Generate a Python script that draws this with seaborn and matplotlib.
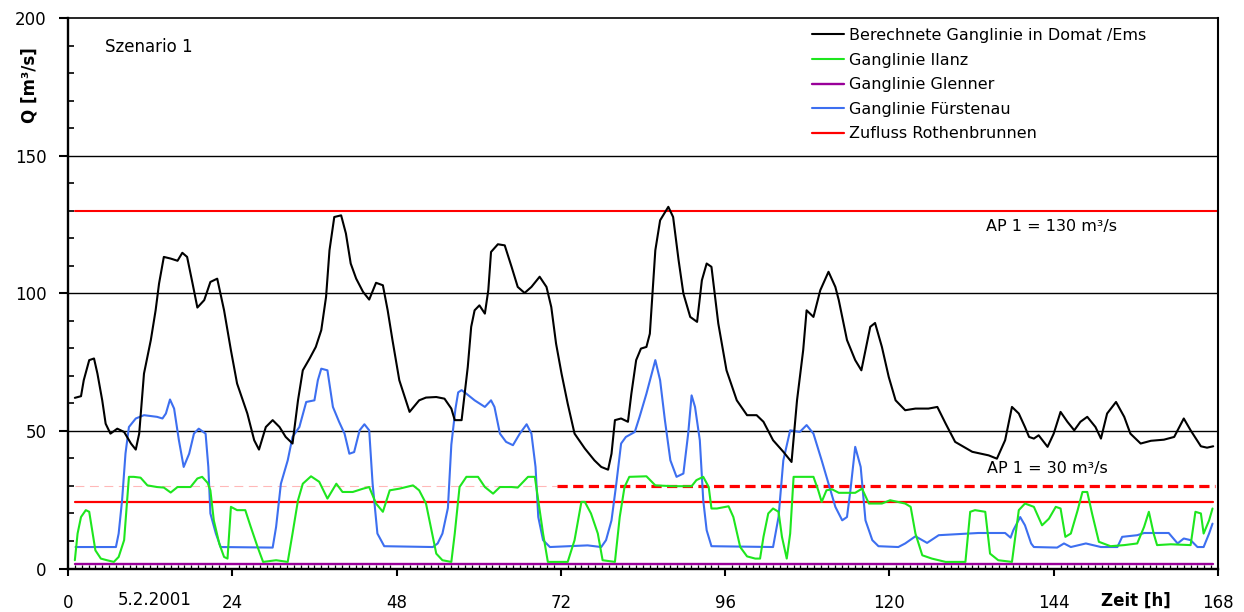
import matplotlib
matplotlib.use("Agg")
import matplotlib.pyplot as plt
import seaborn as sns
from matplotlib.ticker import MultipleLocator, FixedLocator

sns.set_theme(style="ticks")
plt.rcParams['font.family'] = ['DejaVu Sans']
plt.rcParams.update({"text.color": "black", "axes.labelcolor": "black",
                     "xtick.color": "black", "ytick.color": "black"})

# Berechnete Ganglinie in Domat/Ems (hour, m3/s)
domat_h = [1.0, 1.9, 2.3, 3.1, 3.8, 4.3, 5.0, 5.5, 6.2, 7.2, 8.2, 9.2, 9.9, 10.4, 11.1, 12.1, 12.8,
           13.3, 14.0, 15.0, 16.0, 16.7, 17.4, 18.2, 18.9, 19.9, 20.8, 21.8, 22.8, 23.8, 24.7, 26.2,
           27.2, 27.9, 28.9, 29.9, 30.9, 31.8, 32.8, 33.6, 34.3, 35.3, 36.2, 37.0, 37.7, 38.2, 38.9,
           39.9, 40.6, 41.3, 42.1, 43.1, 44.0, 45.0, 46.0, 46.7, 47.4, 48.4, 49.9, 51.3, 52.3, 53.8,
           55.0, 56.0, 56.5, 57.5, 58.4, 58.9, 59.4, 60.1, 60.9, 61.4, 61.8, 62.8, 63.8, 64.8, 65.7,
           66.7, 67.7, 68.9, 69.9, 70.6, 71.3, 72.1, 73.0, 74.0, 75.5, 76.9, 77.9, 78.9, 79.4, 79.9,
           80.8, 81.8, 82.3, 83.0, 83.7, 84.5, 85.0, 85.8, 86.5, 87.7, 88.4, 89.2, 89.9, 90.9, 91.9,
           92.6, 93.3, 94.0, 95.0, 96.2, 97.7, 99.2, 100.6, 101.6, 103.0, 104.5, 105.7, 106.5, 107.4,
           107.9, 108.9, 109.9, 111.1, 112.1, 112.6, 113.8, 115.0, 115.9, 116.5, 117.2, 117.9, 118.9,
           119.9, 120.9, 122.3, 123.8, 125.7, 127.0, 128.2, 129.6, 132.1, 134.5, 135.7, 136.9, 137.9,
           138.9, 139.8, 140.4, 141.1, 141.8, 143.1, 144.0, 145.0, 146.0, 147.0, 147.9, 148.9, 150.1,
           150.9, 151.8, 153.1, 154.3, 155.2, 156.7, 158.2, 160.1, 161.6, 163.0, 164.0, 165.5, 166.4,
           167.3]
domat_q = [62, 62.6, 68.4, 75.7, 76.3, 70.8, 61.1, 52.6, 49, 50.8, 49.6, 45.4, 43.2, 49, 70.8, 83, 93.8,
           103.5, 113.2, 112.6, 111.8, 114.7, 113.2, 103.5, 94.8, 97.5, 104.1, 105.3, 93.8, 79.3, 67.2, 56.3,
           46.6, 43.2, 51.4, 53.9, 51.4, 47.8, 45.4, 61.1, 72, 76.3, 80.5, 86.6, 98.7, 115.6, 127.7,
           128.3, 121.7, 110.8, 105.3, 100.5, 97.7, 103.8, 102.9, 93.8, 83, 68.4, 56.9, 61.1, 62.1, 62.3,
           61.7, 58.1, 53.9, 53.9, 73.2, 87.8, 93.8, 95.6, 92.6, 101.1, 115, 117.8, 117.4, 109.6, 102.3,
           100.1, 102.3, 106, 102.3, 95, 81.7, 70.8, 59.9, 49, 43.6, 39.3, 36.9, 35.9, 41.7, 53.9,
           54.5, 53.3, 63.5, 75.7, 79.9, 80.5, 85.3, 115.6, 126.5, 131.4, 127.7, 112, 99.9, 91.4, 89.6,
           104.7, 110.8, 109.6, 89, 72, 61.1, 55.7, 55.7, 53.3, 46.6, 42.4, 38.7, 61.1, 79.3,
           93.8, 91.4, 101.1, 107.8, 102.3, 97.5, 83, 75.7, 72, 79.3, 87.8, 89.2, 80.5,
           69.6, 61.1, 57.5, 58.1, 58.1, 58.7, 52.7, 46, 42.4, 41.1, 39.9, 46.6, 58.7,
           56.3, 51.4, 47.8, 47.2, 48.4, 44.2, 49, 56.9, 53.3, 50.2, 53.3, 55.1, 51.4,
           47.2, 56.3, 60.5, 55.1, 49, 45.4, 46.4, 46.8, 47.8, 54.5, 50.2, 44.4, 43.9,
           44.4]

# Ganglinie Ilanz
ilanz_h = [1.0, 1.4, 1.9, 2.6, 3.1, 3.6, 4.0, 4.8, 5.7, 6.7, 7.4, 8.2, 8.9, 9.6, 10.6, 11.6, 13.0, 14.0,
           15.0, 16.0, 17.9, 18.9, 19.6, 20.4, 20.8, 21.3, 22.1, 22.8, 23.3, 23.8, 24.7, 25.9, 26.7,
           27.7, 28.5, 30.4, 32.1, 32.8, 33.6, 34.3, 35.5, 36.7, 37.9, 39.2, 40.1, 41.6, 43.1, 44.0,
           45.0, 46.0, 47.0, 48.4, 50.4, 51.3, 52.3, 53.0, 53.8, 54.7, 56.0, 56.5, 57.2, 58.2, 59.9,
           60.9, 62.1, 63.1, 64.8, 65.7, 67.2, 68.2, 68.7, 69.4, 70.1, 73.0, 74.0, 75.0, 75.5, 76.4,
           77.4, 78.1, 79.9, 80.6, 81.3, 82.0, 84.5, 85.8, 88.4, 91.1, 91.8, 92.8, 93.6, 94.0, 94.8,
           96.5, 97.2, 98.2, 99.2, 100.4, 101.1, 101.6, 102.3, 103.0, 103.8, 104.3, 105.0, 105.5,
           106.0, 108.9, 109.6, 110.1, 110.8, 111.6, 112.6, 115.0, 116.0, 117.0, 118.9, 120.1, 122.3,
           123.1, 123.8, 124.8, 126.2, 128.2, 131.1, 131.8, 132.5, 134.0, 134.7, 135.9, 137.9, 138.9,
           139.8, 141.1, 142.3, 143.3, 144.3, 145.0, 145.7, 146.5, 147.5, 148.2, 148.9, 149.6, 150.6,
           152.3, 154.3, 156.2, 157.2, 157.9, 158.6, 159.1, 161.1, 164.0, 164.7, 165.5, 165.9, 166.7,
           167.2]
ilanz_q = [3, 12.7, 18.7, 21.2, 20.6, 12.7, 6.6, 3.6, 3, 2.4, 4.2, 10.3, 33.3, 33.3, 33, 30.2, 29.6, 29.4,
           27.6, 29.6, 29.6, 32.7, 33.3, 31.1, 28.4, 17.5, 9, 4.2, 3.6, 22.4, 21.2, 21.2, 15.1,
           7.8, 2.4, 3, 2.4, 12.7, 24.8, 30.8, 33.5, 31.5, 25.4, 30.8, 27.8, 27.8, 29, 29.6,
           23.6, 20.6, 28.4, 29, 30.2, 28.4, 23.6, 15.1, 5.4, 3, 2.4, 12.7, 29.6, 33.3, 33.3,
           29.6, 27.2, 29.6, 29.6, 29.4, 33.3, 33.3, 24.8, 12.7, 2.4, 2.4, 10.3, 24.2, 24.2, 20,
           12.7, 3, 2.4, 18.7, 29.6, 33.3, 33.5, 30.2, 29.9, 29.9, 32.1, 33.3, 29.6, 21.8, 21.8,
           22.6, 18.7, 7.8, 4.4, 3.6, 3.6, 11.5, 20, 21.8, 20.6, 11.5, 3.6, 12.7,
           33.3, 33.3, 28.4, 24.2, 28.4, 28.8, 27.5, 27.5, 29, 23.6, 23.6, 24.8, 23.6,
           22.4, 12.7, 4.8, 3.6, 2.4, 2.4, 20.6, 21.2, 20.6, 5.4, 3, 2.4, 21.2,
           23.6, 22.4, 15.7, 18.1, 22.4, 21.8, 11.5, 12.7, 21.2, 27.8, 27.8, 20, 9.7,
           8.1, 8.5, 9.1, 15.1, 20.6, 12.7, 8.5, 8.8, 8.5, 20.6, 20, 12.7, 17.5,
           21.8]

# Ganglinie Fuerstenau
fuerstenau_h = [1.1, 7.0, 7.4, 7.9, 8.4, 8.9, 9.9, 11.1, 13.0, 13.8, 14.3, 14.9, 15.5, 16.2, 16.9, 17.7,
                18.4, 19.1, 20.1, 20.5, 20.8, 21.6, 22.3, 29.9, 30.4, 31.1, 32.1, 32.8, 33.8, 34.8,
                36.0, 36.5, 37.0, 37.9, 38.7, 39.6, 40.4, 41.1, 41.8, 42.6, 43.3, 44.0, 44.5, 45.2,
                46.2, 53.3, 54.0, 54.7, 55.5, 56.0, 56.6, 57.0, 57.5, 58.2, 59.4, 60.9, 61.8, 62.3,
                63.1, 64.0, 65.0, 66.0, 67.0, 67.7, 68.3, 68.7, 69.4, 70.4, 75.9, 77.9, 78.6, 79.4,
                80.1, 80.8, 81.5, 82.8, 83.5, 84.5, 85.8, 86.5, 87.2, 88.0, 88.9, 89.9, 90.6, 91.1,
                91.6, 92.3, 92.8, 93.3, 94.0, 103.0, 103.8, 104.5, 105.5, 106.9, 107.9, 108.9, 110.1,
                111.1, 112.1, 113.1, 113.8, 114.3, 115.0, 115.8, 116.5, 117.5, 118.4, 121.3, 122.3,
                123.8, 125.5, 127.2, 130.1, 133.0, 136.9, 137.7, 138.1, 139.1, 139.8, 140.7, 141.1,
                144.5, 145.5, 146.5, 148.7, 150.9, 153.3, 154.0, 156.2, 157.2, 160.8, 162.1, 163.0,
                164.0, 165.0, 165.9, 166.7, 167.2]
fuerstenau_q = [7.8, 7.8, 12.7, 24.8, 41.8, 51.4, 54.5, 55.7, 55.1, 54.5, 56.3, 61.4, 58.1, 46.6, 36.9, 41.7,
                49, 50.8, 49, 36.9, 20, 12.7, 7.8, 7.6, 15.1, 30.8, 39.3, 47.8, 51.4, 60.5,
                61.1, 68.4, 72.6, 72, 58.7, 53.3, 49, 41.7, 42.3, 50.2, 52.4, 50.2, 30.8, 12.7,
                8.1, 7.8, 9.1, 12.7, 22, 45, 58, 64, 64.8, 63.5, 61.1, 58.7, 61.1, 58.7,
                49, 46, 44.8, 49, 52.4, 49, 36.9, 18.7, 10.3, 7.8, 8.4, 7.8, 10.3, 17.5,
                30.8, 45.4, 47.8, 49.6, 55.1, 63.5, 75.7, 68.4, 53.9, 39.3, 33.3, 34.5, 49, 62.9,
                58.7, 46.6, 24.8, 13.9, 8.1, 7.8, 18.7, 39.3, 50.2, 49.6, 52.1, 49, 39.3,
                30.8, 22.4, 17.5, 18.7, 28.4, 44.2, 36.9, 17.5, 10.3, 8.1, 7.8, 9.1,
                11.7, 9.3, 12.1, 12.5, 12.9, 12.9, 11.2, 13.9, 18.7, 15.7, 9.1, 7.8,
                7.6, 9.1, 7.8, 9.1, 7.8, 7.8, 11.5, 12.1, 12.9, 12.9, 9.1, 10.9,
                10.3, 7.8, 7.8, 12.7, 16.3]

# Constant series and thresholds
span_h = [1.0, 167.2]
glenner_q = [1.5, 1.5]
rothenbrunnen_q = [24, 24]
ap_high_h = [1.0, 168.0]
ap_high_q = [130, 130]
ap_low_pale_h = [1.0, 71.4]
ap_low_h = [71.4, 167.6]
ap_low_q = [30, 30]

x_ticks = [0, 24, 48, 72, 96, 120, 144, 168]
y_ticks = [0, 50, 100, 150, 200]
grid_levels = [50, 100, 150]

C_BLACK = "#000000"
C_GREEN = "#1ee61e"
C_PURPLE = "#990099"
C_BLUE = "#3d6ff0"
C_RED = "#ff0000"

fig = plt.figure(figsize=(12.44, 6.12), dpi=100)
ax = fig.add_axes([68 / 1244, 1 - 568.5 / 612, 1150 / 1244, 550.5 / 612])

for lv in grid_levels:
    ax.axhline(lv, color="black", lw=1.0, zorder=1)


def draw(h, q, **kw):
    sns.lineplot(x=h, y=q, ax=ax, estimator=None, sort=False, **kw)


draw(ap_high_h, ap_high_q, color=C_RED, lw=1.5, zorder=2)
draw(ap_low_pale_h, ap_low_q, color="#ffb8b8", lw=0.8, zorder=2, linestyle=(0, (8, 5)))
draw(ap_low_h, ap_low_q, color=C_RED, lw=2.3, zorder=2, linestyle=(0, (3.2, 1.7)))
draw(span_h, glenner_q, color=C_PURPLE, lw=1.7, zorder=3, label="Ganglinie Glenner")
draw(span_h, rothenbrunnen_q, color=C_RED, lw=1.6, zorder=3, label="Zufluss Rothenbrunnen")
draw(fuerstenau_h, fuerstenau_q, color=C_BLUE, lw=1.5, zorder=4, label="Ganglinie Fürstenau")
draw(ilanz_h, ilanz_q, color=C_GREEN, lw=1.5, zorder=5, label="Ganglinie Ilanz")
draw(domat_h, domat_q, color=C_BLACK, lw=1.5, zorder=6, label="Berechnete Ganglinie in Domat /Ems")

ax.set_xlim(0, 168)
ax.set_ylim(0, 200)
ax.xaxis.set_major_locator(FixedLocator(x_ticks))
ax.yaxis.set_major_locator(FixedLocator(y_ticks))
ax.xaxis.set_minor_locator(MultipleLocator(1))
ax.yaxis.set_minor_locator(MultipleLocator(10))
ax.tick_params(axis="x", which="major", direction="out", length=5, width=1.5, pad=13,
               labelsize=12, colors="black")
ax.tick_params(axis="y", which="major", direction="out", length=6.5, width=1.5, pad=9,
               labelsize=12, colors="black")
ax.tick_params(axis="x", which="minor", direction="in", length=3, width=0.9)
ax.tick_params(axis="y", which="minor", direction="in", length=4.5, width=1.2)
ax.set_xlabel("")
ax.set_ylabel("")

for side, lw in (("left", 1.7), ("bottom", 1.7), ("right", 1.5), ("top", 1.2)):
    ax.spines[side].set_visible(True)
    ax.spines[side].set_linewidth(lw)
    ax.spines[side].set_color("black")

# Legend in the fixed order of the series
order = ["Berechnete Ganglinie in Domat /Ems", "Ganglinie Ilanz", "Ganglinie Glenner",
         "Ganglinie Fürstenau", "Zufluss Rothenbrunnen"]
handles, labels = ax.get_legend_handles_labels()
lookup = dict(zip(labels, handles))
ax.legend([lookup[k] for k in order], order, loc="upper left",
          bbox_to_anchor=((812 - 68) / 1150, (568.5 - 28) / 550.5), frameon=False,
          fontsize=11.5, handlelength=2.0, handletextpad=0.3, labelspacing=0.6,
          borderpad=0, borderaxespad=0)

ax.text(5.4, 189.4, "Szenario 1", fontsize=12, va="center", ha="left")
ax.text(134.1, 124.4, "AP 1 = 130 m³/s", fontsize=11.5, va="center", ha="left")
ax.text(134.3, 36.5, "AP 1 = 30 m³/s", fontsize=11.5, va="center", ha="left")

xt = ax.get_xaxis_transform()
ax.text(12.6, -0.058, "5.2.2001", transform=xt, fontsize=12, va="center", ha="center")
ax.text(156.0, -0.058, "Zeit [h]", transform=xt, fontsize=12, fontweight="bold",
        va="center", ha="center")

fig.text(30 / 1244, 1 - 85 / 612, "Q [m³/s]", rotation=90, fontsize=12, fontweight="bold",
         va="center", ha="center")

fig.savefig("out.png", dpi=100, facecolor="white")
